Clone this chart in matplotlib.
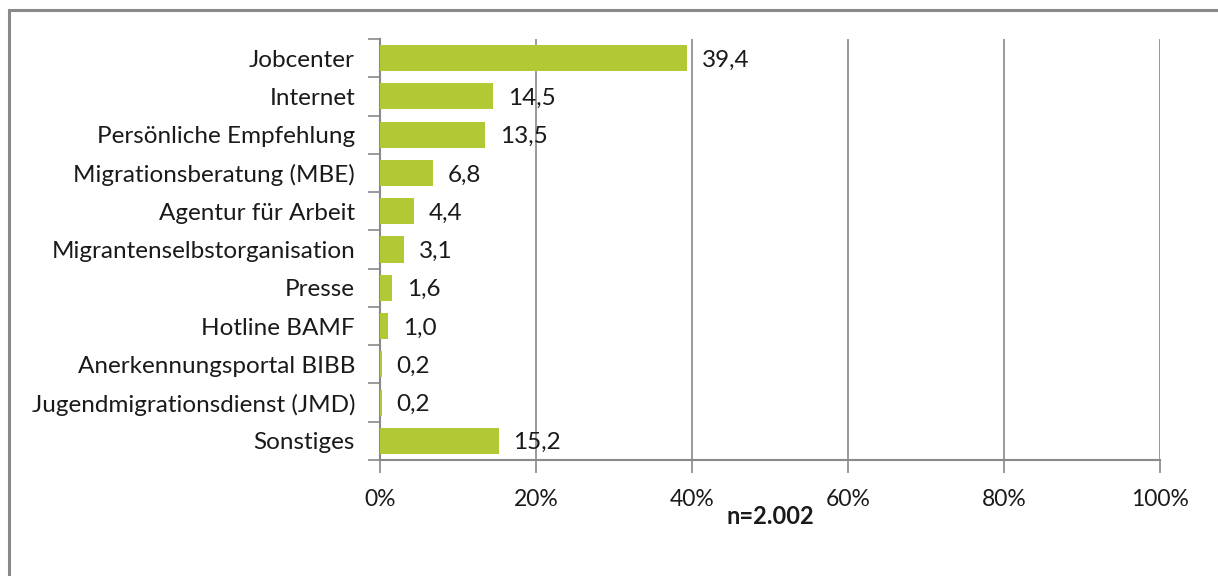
import matplotlib.pyplot as plt
from matplotlib.patches import Rectangle
from matplotlib.ticker import FixedLocator, FuncFormatter

# data
categories = ['Jobcenter', 'Internet', 'Persönliche Empfehlung', 'Migrationsberatung (MBE)',
              'Agentur für Arbeit', 'Migrantenselbstorganisation', 'Presse', 'Hotline BAMF',
              'Anerkennungsportal BIBB', 'Jugendmigrationsdienst (JMD)', 'Sonstiges']
values = [39.4, 14.5, 13.5, 6.8, 4.4, 3.1, 1.6, 1.0, 0.2, 0.2, 15.2]
xticks = [0, 20, 40, 60, 80, 100]
note = 'n=2.002'

plt.rcParams['font.family'] = ['Lato', 'DejaVu Sans']
gray = '#898989'
green = '#B2C935'
txt = '#1a1a1a'

W, H = 1218, 576
fig = plt.figure(figsize=(W / 100, H / 100), dpi=100)
ax = fig.add_axes([380 / W, 1 - 460 / H, 780 / W, 421 / H])

n = len(categories)
ypos = list(range(n))
ax.barh(ypos, values, height=0.68, color=green, zorder=3)
ax.set_ylim(n - 0.5, -0.5)
ax.set_xlim(0, 100)

for y, v in zip(ypos, values):
    ax.text(v + 1.9, y + 0.05, f'{v:.1f}'.replace('.', ','), va='center', ha='left',
            fontsize=17.5, color=txt, zorder=4)

ax.set_yticks(ypos)
ax.set_yticklabels(categories, fontsize=17.5, color=txt)
ax.yaxis.set_minor_locator(FixedLocator([i - 0.5 for i in range(n + 1)]))
ax.tick_params(axis='y', which='major', length=0, pad=18)
ax.tick_params(axis='y', which='minor', length=9, color=gray, width=1.2)

ax.xaxis.set_major_locator(FixedLocator(xticks))
ax.xaxis.set_major_formatter(FuncFormatter(lambda x, p: f'{x:.0f}%'))
ax.tick_params(axis='x', length=9, color=gray, width=1.2, labelsize=16.5,
               labelcolor=txt, pad=12)
ax.grid(axis='x', color=gray, linewidth=1.2, zorder=0)

for s in ['top', 'right']:
    ax.spines[s].set_visible(False)
for s in ['left', 'bottom']:
    ax.spines[s].set_color(gray)
    ax.spines[s].set_linewidth(1.5)

fig.text(770 / W, 1 - 517 / H, note, ha='center', va='center', fontsize=17,
         fontweight='bold', color=txt)

# outer frame
fig.patches.append(Rectangle((9 / W, -0.05), 1.2, 1 - 10 / H + 0.05,
                             transform=fig.transFigure, fill=False,
                             edgecolor=gray, linewidth=2.2))

fig.savefig('out.png', dpi=100)
